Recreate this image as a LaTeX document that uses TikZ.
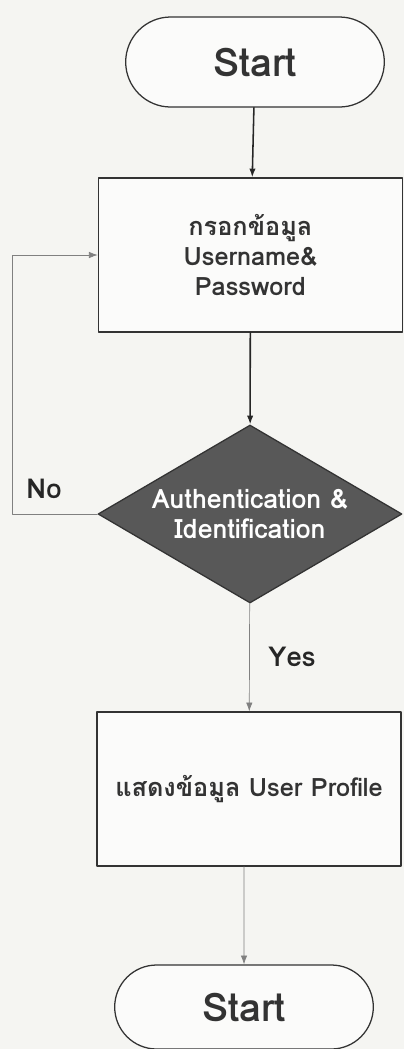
\documentclass[tikz,border=0pt]{standalone}
\usepackage{fontspec}
\setmainfont{Loma}[Script=Thai]
\usetikzlibrary{arrows.meta,shapes.misc,shapes.geometric}
\definecolor{paper}{RGB}{245,245,242}
\definecolor{decision}{RGB}{88,88,88}

\begin{document}
\begin{tikzpicture}[
  line cap=round,
  line join=round,
  >={Latex[length=2.2mm,width=1.6mm]},
  terminal/.style={
    rounded rectangle,
    draw=black!80,
    fill=white!60!paper,
    minimum width=6.7cm,
    minimum height=2.25cm,
    line width=0.9pt,
    font=\bfseries\fontsize{28}{30}\selectfont,
    text=black!80
  },
  process/.style={
    rectangle,
    draw=black!80,
    fill=white!60!paper,
    minimum width=7.6cm,
    minimum height=3.85cm,
    line width=0.9pt,
    align=center,
    font=\bfseries\fontsize{18}{21}\selectfont,
    text=black!80
  },
  decide/.style={
    diamond,
    draw=black!80,
    fill=decision,
    aspect=1.72,
    minimum width=7.6cm,
    minimum height=4.45cm,
    inner sep=0pt,
    line width=0.9pt,
    align=center,
    font=\bfseries\fontsize{19}{21}\selectfont,
    text=white
  },
  flow/.style={draw=black!85,line width=1.1pt,->},
  thinflow/.style={draw=black!50,line width=0.5pt,->},
  branch/.style={font=\bfseries\fontsize{19.5}{21}\selectfont,text=black!85}
]

% page and background
\fill[paper] (0,0) rectangle (10.1,-26.225);
\useasboundingbox (0,0) rectangle (10.1,-26.225);

% main column
\node[terminal] (start) at (6.375,-1.55) {Start};
\node[process]  (input) at (6.26,-6.375) {กรอกข้อมูล\\Username\&\\Password};
\node[decide]   (auth)  at (6.25,-12.85) {Authentication \&\\Identification};
\node[process]  (show)  at (6.225,-19.725) {แสดงข้อมูล User Profile};
\node[terminal, minimum height=2.1cm] (stop) at (6.1,-25.175) {Start};

\draw[flow] (start) -- (input);
\draw[flow] (input) -- (auth);
\draw[thinflow] (auth) -- (show);
\draw[thinflow] (show.south -| stop.north) -- (stop);

% failed check goes back to the input box
\coordinate (retry) at (0.3,-12.85);
\draw[thinflow] (auth.west) -- (retry) |- (input.west);

\node[branch] (no)  at (1.1,-12.225) {No};
\node[branch] (yes) at (7.3,-16.425) {Yes};

\end{tikzpicture}
\end{document}
